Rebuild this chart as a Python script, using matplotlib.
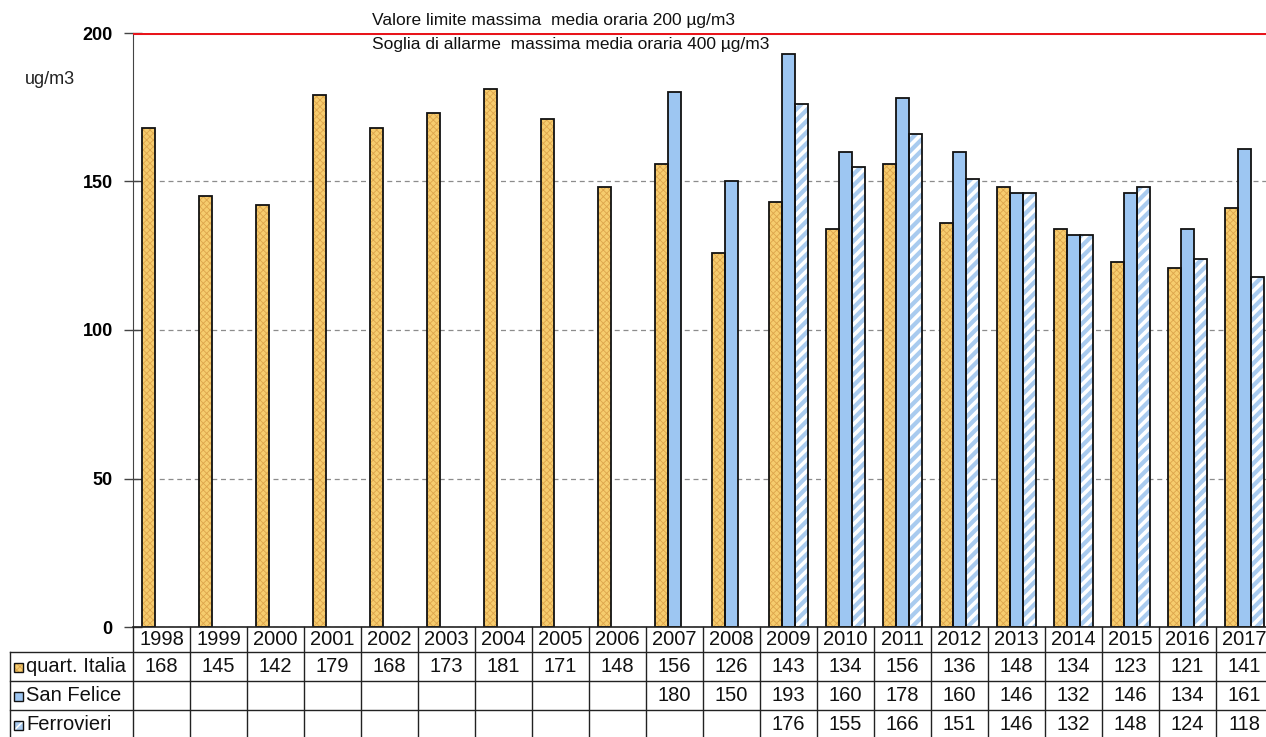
import numpy as np
import matplotlib.pyplot as plt
from matplotlib.patches import Rectangle

plt.rcParams['font.family'] = ['Liberation Sans', 'DejaVu Sans']

years = list(range(1998, 2018))
quart_italia = [168, 145, 142, 179, 168, 173, 181, 171, 148, 156,
                126, 143, 134, 156, 136, 148, 134, 123, 121, 141]
san_felice = [None] * 9 + [180, 150, 193, 160, 178, 160, 146, 132, 146, 134, 161]
ferrovieri = [None] * 11 + [176, 155, 166, 151, 146, 132, 148, 124, 118]
names = ['quart. Italia', 'San Felice', 'Ferrovieri']
limit_value = 200

W, H = 1266, 737
fig = plt.figure(figsize=(W / 100, H / 100), dpi=100)
# plot area in pixels: x 133..1273 (cut by image edge), y 33..627
ax = fig.add_axes([133 / W, (H - 627) / H, 1140 / W, 594 / H])

bw = 0.225
styles = [
    dict(face='#F6CC6E', hcol='#DDA54C', hatch='xxxxx', hlw=0.6),
    dict(face='#9DC6F2', hcol=None, hatch=None, hlw=0),
    dict(face='#A9CBEF', hcol='white', hatch='///', hlw=2.6),
]
series = [quart_italia, san_felice, ferrovieri]
offsets = [-bw, 0, bw]

for vals, off, st in zip(series, offsets, styles):
    idx = np.array([i for i, v in enumerate(vals) if v is not None])
    h = [v for v in vals if v is not None]
    if st['hatch']:
        with plt.rc_context({'hatch.linewidth': st['hlw']}):
            bars = ax.bar(idx + off, h, width=bw, color=st['face'],
                          edgecolor=st['hcol'], hatch=st['hatch'], linewidth=0, zorder=3)
            for b in bars:
                if hasattr(b, 'set_hatch_linewidth'):
                    b.set_hatch_linewidth(st['hlw'])
    else:
        ax.bar(idx + off, h, width=bw, color=st['face'], linewidth=0, zorder=3)
    ax.bar(idx + off, h, width=bw, fill=False, edgecolor='#111111', linewidth=1.3, zorder=4)

ax.axhline(limit_value, color='#E8141B', linewidth=2.2, zorder=5)

ax.set_xlim(-0.5, len(years) - 0.5)
ax.set_ylim(0, 200)
ax.set_yticks([0, 50, 100, 150, 200])
ax.yaxis.grid(True, linestyle=(0, (4, 3)), color='#8C8C8C', linewidth=0.9)
ax.set_axisbelow(True)
ax.set_xticks([])
for s in ['top', 'right', 'bottom']:
    ax.spines[s].set_visible(False)
ax.spines['left'].set_color('#444444')
ax.tick_params(axis='y', direction='inout', length=13, width=1, color='#444444', pad=8)
for lab in ax.get_yticklabels():
    lab.set_fontsize(13)
    lab.set_fontweight('bold')

fig.text(25 / W, 1 - 80 / H, 'ug/m3', fontsize=13, va='center', ha='left', color='#222222')
fig.text(372 / W, 1 - 20 / H, 'Valore limite massima  media oraria 200 µg/m3',
         fontsize=12.5, va='center', ha='left', color='#111111')
fig.text(372 / W, 1 - 44 / H, 'Soglia di allarme  massima media oraria 400 µg/m3',
         fontsize=12.5, va='center', ha='left', color='#111111')

# data table below the plot, rows in pixel units
row_edges = [0, 25, 54, 83, 112]
tax = fig.add_axes([133 / W, (H - 627 - 112) / H, 1140 / W, 112 / H])
tax.set_xlim(-0.5, len(years) - 0.5)
tax.set_ylim(112, 0)
tax.axis('off')
lab_left = -0.5 - 123 / 57
lc = '#222222'
tax.plot([-0.5, len(years) - 0.5], [0, 0], color=lc, lw=1.2, clip_on=False)
for y in row_edges[1:]:
    tax.plot([lab_left, len(years) - 0.5], [y, y], color=lc, lw=1.0, clip_on=False)
for k in range(len(years) + 1):
    tax.plot([k - 0.5, k - 0.5], [0, 112], color=lc, lw=1.0, clip_on=False)
tax.plot([lab_left, lab_left], [25, 112], color=lc, lw=1.0, clip_on=False)

fs = 14.5
for i, yr in enumerate(years):
    tax.text(i, 12.5, str(yr), ha='center', va='center', fontsize=fs, color='#111111')
for r, (vals, name, st) in enumerate(zip(series, names, styles)):
    yc = (row_edges[r + 1] + row_edges[r + 2]) / 2
    for i, v in enumerate(vals):
        if v is not None:
            tax.text(i, yc, str(v), ha='center', va='center', fontsize=fs, color='#111111')
    kx = -0.5 - 119 / 57
    with plt.rc_context({'hatch.linewidth': 0.6 if st['hatch'] == 'xxxxx' else 1.2}):
        key = Rectangle((kx, yc - 4), 9 / 57, 9, facecolor=st['face'],
                        edgecolor=st['hcol'] or st['face'], hatch=st['hatch'], lw=0, clip_on=False)
    tax.add_patch(key)
    tax.add_patch(Rectangle((kx, yc - 4), 9 / 57, 9, fill=False,
                            edgecolor='#111111', lw=1.0, clip_on=False))
    tax.text(kx + 12 / 57, yc, name, ha='left', va='center', fontsize=fs, color='#111111')

fig.savefig('out.png', dpi=100)
